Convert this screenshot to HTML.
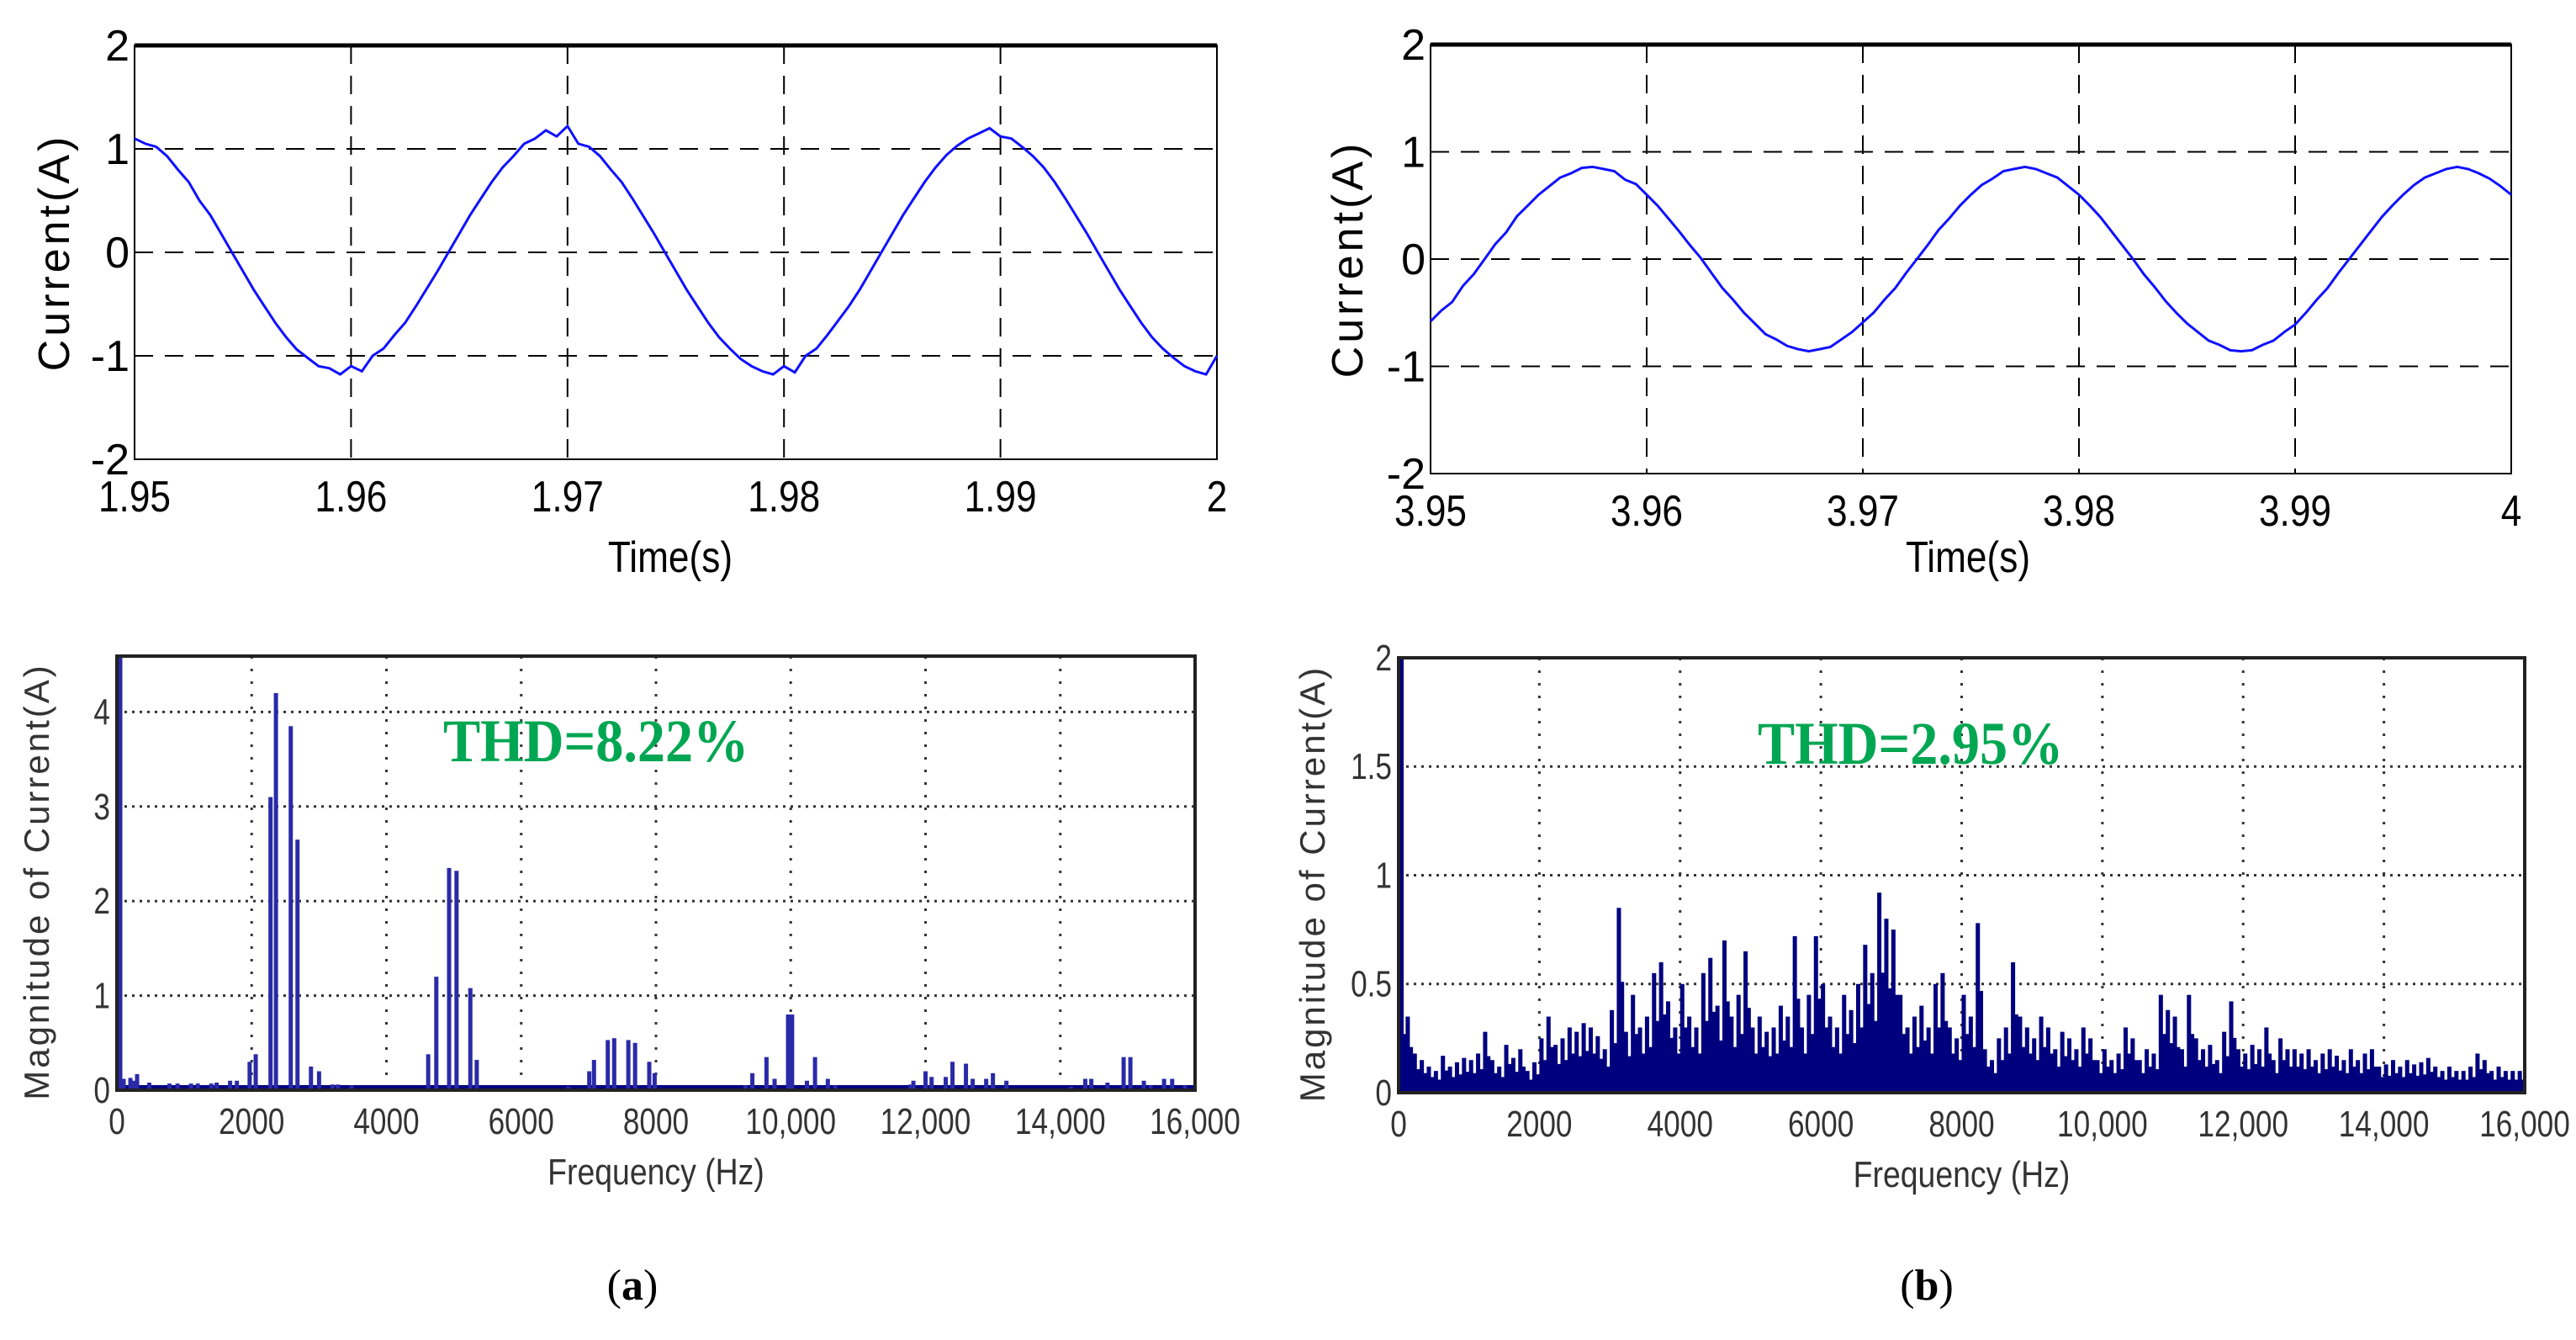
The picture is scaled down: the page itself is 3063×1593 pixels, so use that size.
<!DOCTYPE html>
<html><head><meta charset="utf-8">
<style>
html,body{margin:0;padding:0;background:#fff;}
svg{display:block;}
.tk{font-family:"Liberation Sans",sans-serif;fill:#000;}
.tk2{font-family:"Liberation Sans",sans-serif;fill:#333;}
</style></head>
<body>
<svg id="fig" width="3063" height="1593" viewBox="0 0 3063 1593" xmlns="http://www.w3.org/2000/svg">
<text x="752" y="1545" font-family="Liberation Serif" font-size="52" text-anchor="middle">(<tspan font-weight="bold">a</tspan>)</text>
<text x="2291" y="1545" font-family="Liberation Serif" font-size="52" text-anchor="middle">(<tspan font-weight="bold">b</tspan>)</text>
</svg>
<script>
// ---- data ----
const timeTicksA = ["1.95","1.96","1.97","1.98","1.99","2"];
const timeTicksB = ["3.95","3.96","3.97","3.98","3.99","4"];
const currentTicks = ["2","1","0","-1","-2"];
const currentTickValues = [2,1,0,-1,-2];
// current (a) sampled every 0.5 ms from 1.95 s
const currentA = [1.10,1.05,1.02,0.93,0.80,0.68,0.50,0.36,0.18,0.00,
-0.18,-0.36,-0.52,-0.68,-0.82,-0.94,-1.02,-1.10,-1.12,-1.18,
-1.10,-1.15,-1.00,-0.93,-0.80,-0.68,-0.52,-0.35,-0.18,0.00,
0.18,0.36,0.52,0.68,0.82,0.93,1.05,1.10,1.18,1.12,
1.22,1.05,1.02,0.93,0.80,0.68,0.52,0.35,0.18,0.00,
-0.18,-0.36,-0.52,-0.68,-0.82,-0.93,-1.03,-1.10,-1.15,-1.18,
-1.10,-1.16,-1.00,-0.93,-0.80,-0.66,-0.52,-0.36,-0.18,0.00,
0.18,0.36,0.52,0.68,0.82,0.94,1.03,1.10,1.15,1.20,
1.12,1.10,1.02,0.93,0.82,0.68,0.52,0.35,0.18,0.00,
-0.18,-0.36,-0.52,-0.68,-0.82,-0.93,-1.02,-1.10,-1.15,-1.18,
-1.00];
// current (b) sampled every 0.5 ms from 3.95 s
const currentB = [-0.58,-0.48,-0.40,-0.25,-0.14,0.00,0.14,0.25,0.40,0.50,0.60,0.68,0.76,0.80,0.85,0.86,0.84,0.82,0.74,0.70,0.60,0.50,0.38,0.26,0.13,0.01,-0.13,-0.27,-0.38,-0.50,-0.60,-0.70,-0.75,-0.81,-0.84,-0.86,-0.84,-0.82,-0.75,-0.68,-0.59,-0.50,-0.38,-0.27,-0.13,0.00,0.13,0.27,0.38,0.50,0.60,0.69,0.75,0.82,0.84,0.86,0.84,0.80,0.76,0.68,0.60,0.50,0.39,0.26,0.13,0.00,-0.14,-0.26,-0.39,-0.50,-0.60,-0.68,-0.76,-0.80,-0.85,-0.86,-0.85,-0.80,-0.76,-0.68,-0.61,-0.50,-0.38,-0.27,-0.13,0.00,0.13,0.26,0.39,0.50,0.60,0.69,0.76,0.80,0.84,0.86,0.84,0.80,0.75,0.68,0.60];
const freqTicks = ["0","2000","4000","6000","8000","10,000","12,000","14,000","16,000"];
const magTicksA = ["0","1","2","3","4"];
const magTicksB = ["0","0.5","1","1.5","2"];
const magTickValuesB = [0,0.5,1,1.5,2];
// spectrum (a): harmonic frequencies (Hz) and magnitudes (A)
const specFreqA = [50,100,200,250,300,480,780,900,1100,1200,1400,1480,1680,1780,1970,2060,2280,2360,2580,2680,2880,3000,3200,3280,3480,4620,4740,4930,5040,5245,5340,6700,7010,7080,7285,7380,7590,7690,7900,7980,9330,9430,9640,9760,9960,10020,10240,10360,10550,10660,11780,11820,12000,12090,12300,12400,12600,12700,12900,13000,13200,14160,14370,14460,14700,14940,15040,15240,15340,15540,15660,15850];
const specMagA = [4.7,0.12,0.13,0.1,0.17,0.08,0.07,0.07,0.07,0.07,0.07,0.08,0.1,0.1,0.3,0.38,3.1,4.2,3.85,2.65,0.25,0.2,0.06,0.06,0.05,0.38,1.2,2.35,2.32,1.08,0.32,0.04,0.2,0.32,0.53,0.55,0.53,0.5,0.3,0.18,0.05,0.18,0.35,0.12,0.8,0.8,0.1,0.35,0.12,0.05,0.06,0.1,0.2,0.14,0.14,0.3,0.28,0.12,0.12,0.18,0.1,0.04,0.12,0.12,0.08,0.35,0.35,0.1,0.05,0.12,0.12,0.05];
// spectrum (b): 100 Hz bins from 0 Hz
const specMagB = [0.45,0.35,0.18,0.15,0.12,0.1,0.17,0.12,0.14,0.16,
0.15,0.18,0.28,0.15,0.12,0.22,0.16,0.2,0.1,0.14,
0.25,0.35,0.22,0.25,0.3,0.28,0.32,0.3,0.26,0.2,
0.38,0.85,0.28,0.45,0.3,0.35,0.55,0.6,0.42,0.3,
0.5,0.35,0.3,0.55,0.62,0.4,0.7,0.35,0.45,0.65,
0.3,0.35,0.28,0.3,0.4,0.35,0.72,0.3,0.45,0.72,
0.5,0.35,0.3,0.45,0.38,0.5,0.68,0.55,0.92,0.8,
0.75,0.45,0.3,0.35,0.4,0.3,0.5,0.55,0.3,0.25,
0.45,0.35,0.78,0.2,0.15,0.25,0.3,0.6,0.35,0.3,
0.25,0.35,0.3,0.2,0.28,0.25,0.2,0.3,0.25,0.15,
0.2,0.15,0.18,0.3,0.25,0.15,0.2,0.18,0.45,0.38,
0.35,0.2,0.45,0.25,0.2,0.22,0.15,0.28,0.42,0.2,
0.18,0.22,0.2,0.3,0.15,0.25,0.2,0.2,0.18,0.2,
0.15,0.18,0.2,0.17,0.15,0.2,0.15,0.18,0.2,0.12,
0.13,0.15,0.12,0.15,0.13,0.14,0.16,0.12,0.1,0.12,
0.1,0.1,0.12,0.18,0.15,0.1,0.12,0.1,0.1,0.1];
const fundamentalB = 2.0;

// ---- drawing ----
const svg = document.getElementById('fig');
const NS = 'http://www.w3.org/2000/svg';
function mk(tag, attrs, parent){
  const e = document.createElementNS(NS, tag);
  for (const k in attrs) e.setAttribute(k, attrs[k]);
  (parent||svg).appendChild(e);
  return e;
}
function lin(d0,d1,r0,r1){ return v => r0 + (v-d0)/(d1-d0)*(r1-r0); }

// ===== time plots =====
function timePlot(o){
  const g = mk('g', {});
  
  
  const sx = lin(0, 5, o.L, o.R), sy = lin(-2, 2, o.B, o.T);
  for (let i=1;i<5;i++){
    const gl = mk('line',{x1:sx(i),x2:sx(i),y1:o.T,y2:o.B,stroke:'#000','stroke-width':2,'stroke-dasharray':'22 14'},g);
    
    
  }
  [1,0,-1].forEach(v=>{
    const gl = mk('line',{x1:o.L,x2:o.R,y1:sy(v),y2:sy(v),stroke:'#000','stroke-width':2,'stroke-dasharray':'22 14'},g);
    
    
  });
  const fr = mk('rect',{x:o.L,y:o.T,width:o.R-o.L,height:o.B-o.T,fill:'none',stroke:'#000','stroke-width':2},g);
  
  
  mk('line',{x1:o.L,x2:o.R,y1:o.T,y2:o.T,stroke:'#000','stroke-width':5},g);
  const n = o.data.length;
  const tx = lin(0, n-1, o.L, o.R);
  let d = '';
  o.data.forEach((v,i)=>{ d += (i?'L':'M') + tx(i).toFixed(1) + ' ' + sy(v).toFixed(1) + ' '; });
  const p = mk('path',{d:d,fill:'none',stroke:'#1010ff','stroke-width':3},g);
  
  
  o.xt.forEach((t,i)=>{
    const e = mk('text',{x:sx(i),y:o.B+62,'text-anchor':'middle','font-size':52,class:'tk',transform:`translate(${sx(i)},0) scale(0.85,1) translate(${-sx(i)},0)`},g);
    e.textContent = t;
    
    
  });
  currentTicks.forEach((t,i)=>{
    const y = sy(currentTickValues[i]);
    const e = mk('text',{x:o.L-6,y:y+18,'text-anchor':'end','font-size':52,class:'tk'},g);
    e.textContent = t;
    
    
  });
  const xl = mk('text',{x:o.xlx,y:o.xly,'text-anchor':'middle','font-size':52,class:'tk',transform:`translate(${o.xlx},0) scale(0.85,1) translate(${-o.xlx},0)`},g);
  xl.textContent = 'Time(s)';
  
  
  const yc = (o.T+o.B)/2;
  const yl = mk('text',{x:0,y:0,'text-anchor':'middle','font-size':52,class:'tk','letter-spacing':4,transform:`translate(${o.ylx},${yc}) rotate(-90)`},g);
  yl.textContent = 'Current(A)';
  
  
}
timePlot({name:'current-plot-a',L:160,R:1447,T:54,B:546,data:currentA,xt:timeTicksA,xlx:797,xly:680,ylx:82});
timePlot({name:'current-plot-b',L:1701,R:2986,T:53,B:563,data:currentB,xt:timeTicksB,xlx:2340,xly:680,ylx:1620});

// ===== spectrum plots =====
function specFrame(o, g){
  const sx = lin(0,16000,o.L,o.R);
  for (let i=1;i<8;i++){
    const gl = mk('line',{x1:sx(i*2000),x2:sx(i*2000),y1:o.T,y2:o.B,stroke:'#333','stroke-width':3,'stroke-dasharray':'3 12'},g);
    
    
  }
  o.yg.forEach(y=>{
    const gl = mk('line',{x1:o.L,x2:o.R,y1:y,y2:y,stroke:'#333','stroke-width':3,'stroke-dasharray':'3 6'},g);
    
    
  });
}
function specAxes(o, g, sy, ticks, vals){
  const sx = lin(0,16000,o.L,o.R);
  const fr = mk('rect',{x:o.L,y:o.T,width:o.R-o.L,height:o.B-o.T,fill:'none',stroke:'#222','stroke-width':4},g);
  
  
  freqTicks.forEach((t,i)=>{
    const x = sx(i*2000);
    const e = mk('text',{x:x,y:o.B+52,'text-anchor':'middle','font-size':44,class:'tk2',transform:`translate(${x},0) scale(0.8,1) translate(${-x},0)`},g);
    e.textContent = t;
    
    
  });
  ticks.forEach((t,i)=>{
    const y = sy(vals[i]);
    const e = mk('text',{x:o.L-8,y:y+15,'text-anchor':'end','font-size':44,class:'tk2',transform:`translate(${o.L-8},0) scale(0.8,1) translate(${-(o.L-8)},0)`},g);
    e.textContent = t;
    
    
  });
  const xlx = (o.L+o.R)/2;
  const xl = mk('text',{x:xlx,y:o.B+112,'text-anchor':'middle','font-size':44,class:'tk2',transform:`translate(${xlx},0) scale(0.85,1) translate(${-xlx},0)`},g);
  xl.textContent = 'Frequency (Hz)';
  
  
  const yc = (o.T+o.B)/2+10;
  const yl = mk('text',{x:0,y:0,'text-anchor':'middle','font-size':42,class:'tk2','letter-spacing':3,transform:`translate(${o.ylx},${yc}) rotate(-90)`},g);
  yl.textContent = 'Magnitude of Current(A)';
  
  
  const th = mk('text',{x:o.thx,y:o.thy,'font-size':72,'font-weight':'bold','font-family':'Liberation Serif, serif',fill:'#00a651',transform:`translate(${o.thx},0) scale(0.92,1) translate(${-o.thx},0)`},g);
  th.textContent = o.thd;
  
  
}

// (a)
(function(){
  const o = {L:139,R:1421,T:780,B:1296,ylx:58,thx:527,thy:905,thd:'THD=8.22%'};
  const g = mk('g',{});
  
  
  const sy = lin(0,1,o.B,o.B-112.4);
  const sx = lin(0,16000,o.L,o.R);
  o.yg = [1,2,3,4].map(v=>sy(v));
  specFrame(o,g);
  const bl = mk('line',{x1:o.L,x2:o.R,y1:o.B-3,y2:o.B-3,stroke:'#000080','stroke-width':6},g);
  
  
  specFreqA.forEach((f,i)=>{
    const top = Math.max(o.T, sy(specMagA[i]));
    const b = mk('rect',{x:sx(f)-2.5,y:top,width:5,height:o.B-top,fill:'#2a2aa8'},g);
    
    
  });
  specAxes(o,g,sy,magTicksA,[0,1,2,3,4]);
})();

// (b)
(function(){
  const o = {L:1663,R:3002,T:782,B:1299,ylx:1575,thx:2090,thy:908,thd:'THD=2.95%'};
  const g = mk('g',{});
  
  
  const sy = lin(0,2,o.B,o.T);
  const sx = lin(0,16000,o.L,o.R);
  o.yg = [0.5,1,1.5].map(v=>sy(v));
  specFrame(o,g);
  const binW = sx(100)-sx(0);
  specMagB.forEach((m,i)=>{
    const top = sy(m);
    const b = mk('rect',{x:sx(i*100),y:top,width:binW*0.6,height:o.B-top,fill:'#00007f'},g);
    
    
    const top2 = sy(m*0.6);
    const b2 = mk('rect',{x:sx(i*100)+binW*0.4,y:top2,width:binW*0.65,height:o.B-top2,fill:'#00007f'},g);
    
    
  });
  const ft = sy(fundamentalB);
  const fb = mk('rect',{x:o.L,y:ft,width:6,height:o.B-ft,fill:'#00007f'},g);
  
  
  specAxes(o,g,sy,magTicksB,magTickValuesB);
})();
</script>
</body></html>
